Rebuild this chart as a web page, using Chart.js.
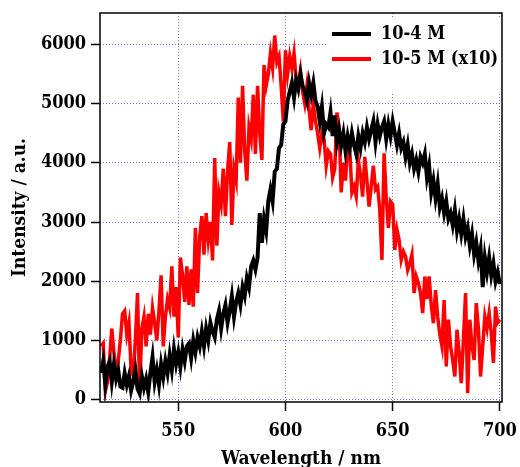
<!DOCTYPE html>
<html>
<head>
<meta charset="utf-8">
<script src="https://cdn.jsdelivr.net/npm/chart.js@4"></script>
<style>
  html, body { margin: 0; padding: 0; background: #fff; }
  #wrap { width: 520px; height: 467px; }
</style>
</head>
<body>
<div id="wrap"><canvas id="specChart" width="520" height="467"></canvas></div>
<script>
// wavelength axis (nm), one point per nm
const startNm = 514;
const endNm = 700;

// 10-4 M spectrum
const black = [
  450, 650, 250, 550, 650, 300, 600, 350, 500, 220,
  200, 450, 250, 400, 150, 300, 500, 180, 100, 400,
  200, 350, 130, 450, 720, 300, 500,
  250, 600, 380, 650, 450, 750, 500, 850, 600, 800,
  550, 850, 650, 900, 950, 700, 1000, 800, 1050, 900,
  1150, 900, 1200, 1000, 1300, 1150, 1050, 1350, 1500, 1200,
  1450, 1600, 1300, 1500, 1750, 1400, 1650, 1800, 1600, 1900,
  1750, 2050, 1900, 2250, 2350, 2200, 2400,
  3150, 2650, 3050, 2850, 3350, 3550, 3350, 3850, 3900, 4250,
  4300, 4650, 4700,
  5050, 5200, 5350, 5100, 5400, 5250, 5500, 5300, 5200, 5050,
  5350, 5150, 5350, 5050, 4950, 4700, 4950, 4500, 4650, 4600,
  4850, 4450, 4800, 4350, 4550,
  4300, 4500, 4200, 4450, 4250, 4500, 4300, 4150, 4450, 4250,
  4500, 4350, 4600, 4400, 4550, 4700, 4350, 4650, 4450, 4600,
  4700, 4400, 4650, 4450, 4700, 4500, 4300, 4500, 4250, 4350,
  4100, 4300, 4000, 4150, 3900,
  4050, 3850, 4100, 4000, 4150, 3750, 3950, 3500, 3700, 3400,
  3650, 3250, 3400, 3150, 3350, 3050, 3150, 2950, 3200, 2850,
  3050, 2800, 3050, 2750, 2900, 2600, 2800, 2450, 2650, 2350,
  2550, 1900, 2400, 2150, 2400, 2100, 2300, 2000, 2150, 1950
];

// 10-5 M spectrum (x10)
const red = [
  900, 950, 150, 300, 700, 1200, 800, 450, 650, 1000,
  1450, 1500, 1100, 1300, 500, 400, 1000, 1800, 150, 1200,
  1400, 900, 1450, 1100, 1550, 1300, 1000, 1500, 2100, 900,
  1400, 1700, 1550, 2250, 1400, 1900, 1050, 2400, 2100, 1650,
  2250, 1600, 2200, 1570, 2900, 1800, 2750, 3100, 2450, 3150,
  2700, 3000, 2350, 4080, 2600, 3500, 3300, 3900, 3100, 3850,
  4350, 2950, 3900, 3700, 5100, 4000, 5300, 4200, 3700, 4600,
  4400, 5150, 4150, 5300, 4500, 4050, 5650, 5300, 5500, 5850,
  5600, 6150, 5700, 5800, 5300, 4700, 5900, 5500, 5800, 5600,
  5850, 5400, 5300, 5550, 5200, 5000, 5300, 4900, 4550, 5000,
  4700, 4500, 4250, 4500, 4400, 3950, 4200, 4150, 3750, 3900,
  4850, 4600, 3500, 4000, 3700, 4250, 4200, 3500, 3600, 3430,
  4050, 3800, 3430, 4100, 3700, 3260, 3600, 3950, 3550, 3600,
  3200, 2360, 4160, 3400, 2900, 3350, 3300, 2530, 2870, 2700,
  2360, 2500, 2420, 2190, 2300, 2450, 1800, 2080, 1970, 1800,
  1460, 2080, 1700, 2080, 1600, 1290, 1850, 1400, 1100, 900,
  1680, 560, 1350, 900, 670, 390, 1180, 800, 280, 1000,
  1800, 110, 1350, 900, 670, 1630, 1200, 390, 900, 1400,
  1200, 1460, 1120, 620, 1570, 1300, 1350
];

const xTicks = [550, 600, 650, 700];
const yTicks = [0, 1000, 2000, 3000, 4000, 5000, 6000];
const seriesNames = ['10-4 M', '10-5 M (x10)'];
const seriesColors = ['#000000', '#ff0000'];

const FONT = '"DejaVu Serif Condensed", "DejaVu Serif", serif';

function toPoints(values) {
  return values.map((v, i) => ({ x: startNm + i, y: v }));
}

// white legend box in upper right, drawn over the grid
const legendBox = {
  id: 'legendBox',
  beforeDatasetsDraw(chart) {
    const { ctx, chartArea } = chart;
    ctx.save();
    ctx.fillStyle = '#fff';
    ctx.fillRect(328, chartArea.top + 5, chartArea.right - 328 - 1, 75);
    ctx.restore();
  },
  afterDatasetsDraw(chart) {
    const { ctx } = chart;
    ctx.save();
    ctx.font = 'bold 18px ' + FONT;
    ctx.textBaseline = 'middle';
    ctx.fillStyle = '#000';
    seriesNames.forEach((name, i) => {
      const y = 34 + i * 25;
      ctx.strokeStyle = seriesColors[i];
      ctx.lineWidth = 4;
      ctx.beginPath();
      ctx.moveTo(332, y);
      ctx.lineTo(371, y);
      ctx.stroke();
      ctx.fillText(name, 381, y);
    });
    ctx.restore();
  }
};

// black frame around the plot area
const frame = {
  id: 'frame',
  afterDraw(chart) {
    const { ctx, chartArea: a } = chart;
    ctx.save();
    ctx.strokeStyle = '#000';
    ctx.lineWidth = 1.5;
    ctx.strokeRect(a.left, a.top, a.right - a.left, a.bottom - a.top);
    ctx.restore();
  }
};

Chart.defaults.font.family = FONT;
Chart.defaults.font.size = 18;
Chart.defaults.font.weight = 'bold';
Chart.defaults.color = '#000';

const gridOpts = {
  color: 'rgba(80,80,255,0.8)',
  lineWidth: 1,
  tickLength: 9,
  tickColor: '#000',
  tickWidth: 1.5,
  tickBorderDash: []
};

new Chart(document.getElementById('specChart'), {
  type: 'line',
  data: {
    datasets: [
      {
        label: seriesNames[0],
        data: toPoints(black),
        borderColor: seriesColors[0],
        borderWidth: 4,
        pointRadius: 0,
        tension: 0
      },
      {
        label: seriesNames[1],
        data: toPoints(red),
        borderColor: seriesColors[1],
        borderWidth: 3.5,
        pointRadius: 0,
        tension: 0
      }
    ]
  },
  options: {
    responsive: false,
    animation: false,
    layout: { padding: { top: 13, right: 18, left: 0, bottom: 0 } },
    plugins: { legend: { display: false }, tooltip: { enabled: false } },
    scales: {
      x: {
        type: 'linear',
        min: 513.5,
        max: 701,
        afterBuildTicks: s => { s.ticks = xTicks.map(v => ({ value: v })); },
        afterFit: s => {
          s.height = 65;
          s.paddingLeft = 0;
          s.paddingRight = 0;
        },
        grid: gridOpts,
        border: { display: false, dash: [1, 2] },
        ticks: { padding: 10, maxRotation: 0, callback: v => String(v) },
        title: {
          display: true,
          text: 'Wavelength / nm',
          font: { size: 19 },
          padding: { top: 0, bottom: -3 }
        }
      },
      y: {
        min: -40,
        max: 6530,
        afterBuildTicks: s => { s.ticks = yTicks.map(v => ({ value: v })); },
        afterFit: s => {
          s.width = 100;
          s.paddingTop = 0;
          s.paddingBottom = 0;
        },
        grid: gridOpts,
        border: { display: false, dash: [1, 2] },
        ticks: { padding: 5, callback: v => String(v) },
        title: {
          display: true,
          text: 'Intensity / a.u.',
          font: { size: 19 },
          padding: { top: 9, bottom: 0 }
        }
      }
    }
  },
  plugins: [legendBox, frame]
});
</script>
</body>
</html>
